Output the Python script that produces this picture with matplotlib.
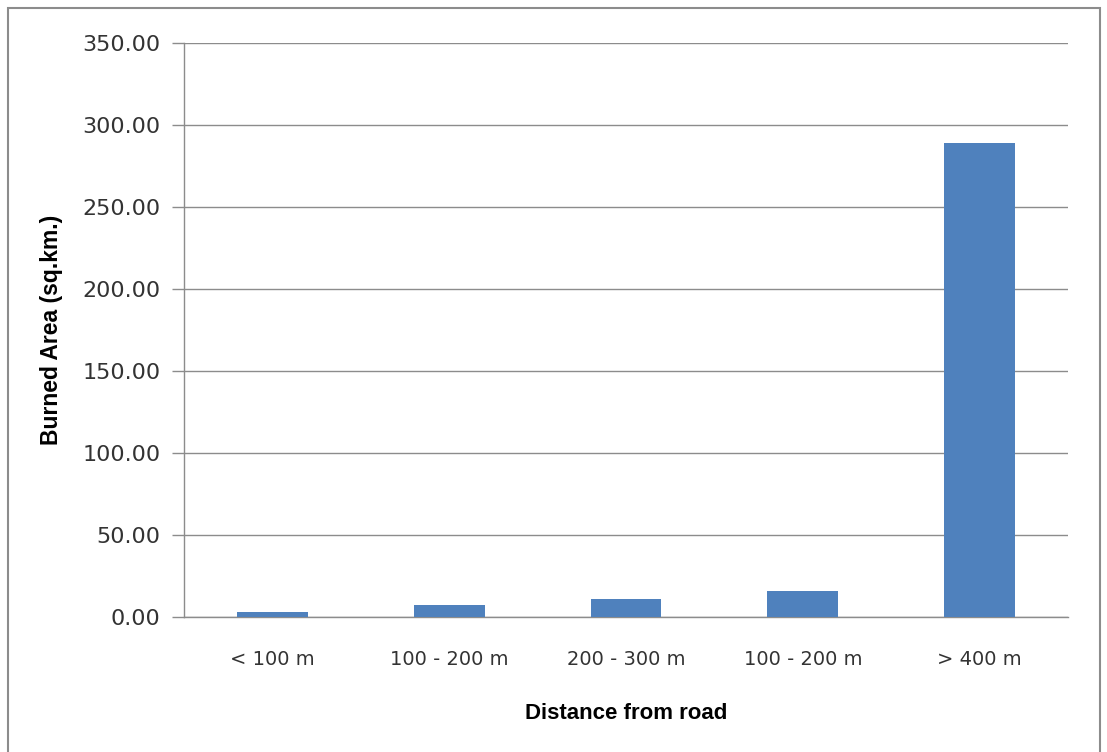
import matplotlib
matplotlib.use("Agg")
import matplotlib.pyplot as plt
from matplotlib.patches import Rectangle
from matplotlib.ticker import FormatStrFormatter

categories = ["< 100 m", "100 - 200 m", "200 - 300 m", "100 - 200 m", "> 400 m"]
burned_area = [3.0, 7.3, 11.0, 15.8, 289.0]
y_ticks = [0, 50, 100, 150, 200, 250, 300, 350]

W, H = 1107, 752
fig = plt.figure(figsize=(W / 100, H / 100), dpi=100)
fig.patch.set_facecolor("white")

# outer chart frame
fig.add_artist(Rectangle((8 / W, -0.05), (1100 - 8) / W, 1 - 8 / H + 0.05,
                         transform=fig.transFigure, fill=False,
                         edgecolor="#8c8c8c", linewidth=1.5))

left, right, top, bottom = 184, 1068, 43, 617
ax = fig.add_axes([left / W, 1 - bottom / H, (right - left) / W, (bottom - top) / H])

x = list(range(len(categories)))
ax.bar(x, burned_area, width=0.4, color="#4F81BD", zorder=3)

ax.set_xlim(-0.5, len(categories) - 0.5)
ax.set_ylim(0, 350)
ax.set_yticks(y_ticks)
ax.yaxis.set_major_formatter(FormatStrFormatter("%.2f"))
ax.set_xticks(x)
ax.set_xticklabels(categories)

ax.grid(axis="y", color="#8c8c8c", linewidth=1, zorder=0)
ax.set_axisbelow(True)

for side in ["top", "right"]:
    ax.spines[side].set_visible(False)
for side in ["left", "bottom"]:
    ax.spines[side].set_color("#8c8c8c")
    ax.spines[side].set_linewidth(1)

ax.tick_params(axis="y", length=9, width=1, color="#8c8c8c", pad=8,
               labelsize=16, labelcolor="#333333")
ax.tick_params(axis="x", length=0, pad=24, labelsize=14, labelcolor="#333333")

ax.set_xlabel("Distance from road", fontsize=16, fontweight="bold",
              family="Liberation Sans", labelpad=24)
ax.set_ylabel("Burned Area (sq.km.)", fontsize=16.5, fontweight="bold",
              family="Liberation Sans", labelpad=14)

fig.savefig("out.png", dpi=100)
